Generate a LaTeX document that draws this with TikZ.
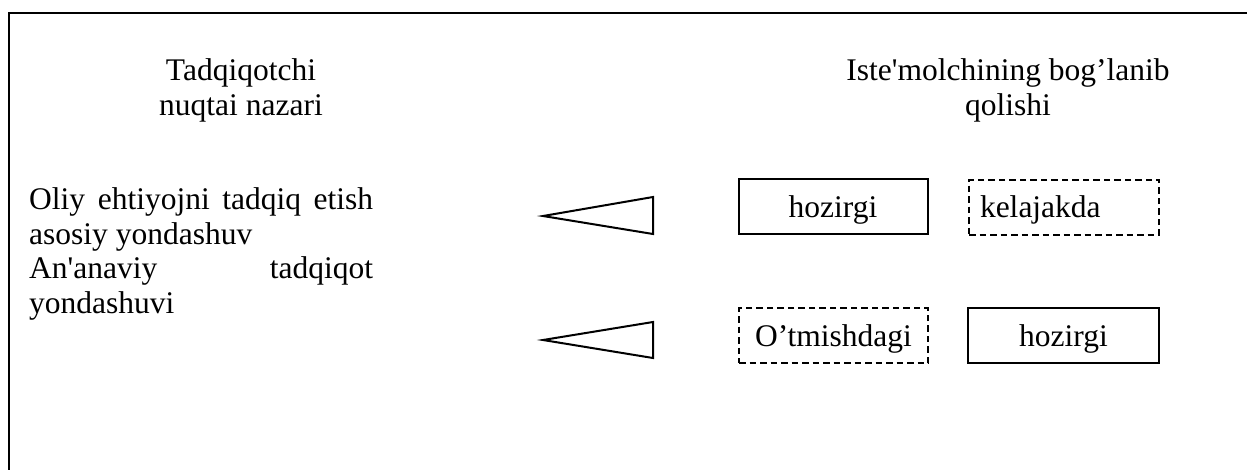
\documentclass[tikz,border=0pt]{standalone}
\usepackage{fontspec}
\setmainfont{Liberation Serif}[Ligatures=TeXOff]
\begin{document}
\begin{tikzpicture}[x=1pt,y=-1pt,
  txt/.style={font=\fontsize{31.5}{34.5}\selectfont, inner sep=0pt},
  boxbase/.style={txt, line width=2pt, minimum width=189pt, minimum height=55pt, text height=21pt, text depth=0pt},
  solidbox/.style={boxbase, draw},
  dashbox/.style={boxbase, draw, dash pattern=on 6.5pt off 4pt},
  tri/.style={draw, line width=2pt, line join=miter}]
\useasboundingbox (0,0) rectangle (1247,469);
% frame
\draw[line width=2pt, line join=miter] (9,475) -- (9,12.5) -- (1255,12.5);
% titles
\node[txt, anchor=north, align=center] (t1) at (241,58.5) {Tadqiqotchi\\nuqtai nazari};
\node[txt, anchor=north, align=center] (t2) at (1008,58.5) {Iste'molchining bog’lanib\\qolishi};
% left text
\node[txt, anchor=north west, align=left] (left) at (29,187.5)
  {\makebox[344pt][s]{Oliy ehtiyojni tadqiq etish}\\asosiy yondashuv\\\makebox[344pt][s]{An'anaviy tadqiqot}\\yondashuvi};
% triangles
\draw[tri] (543,216) -- (653,197) -- (653,234) -- cycle;
\draw[tri] (543,340) -- (653,322) -- (653,358) -- cycle;
% boxes
\node[solidbox] (h1) at (833,206.5) {hozirgi};
\node[dashbox, minimum width=190pt, text width=168pt, inner xsep=11pt, align=left] (k) at (1064,207) {kelajakda};
\node[dashbox] (o) at (833.5,335.5) {O’tmishdagi};
\node[solidbox, minimum width=191pt] (h2) at (1063.5,335.5) {hozirgi};
\end{tikzpicture}
\end{document}
